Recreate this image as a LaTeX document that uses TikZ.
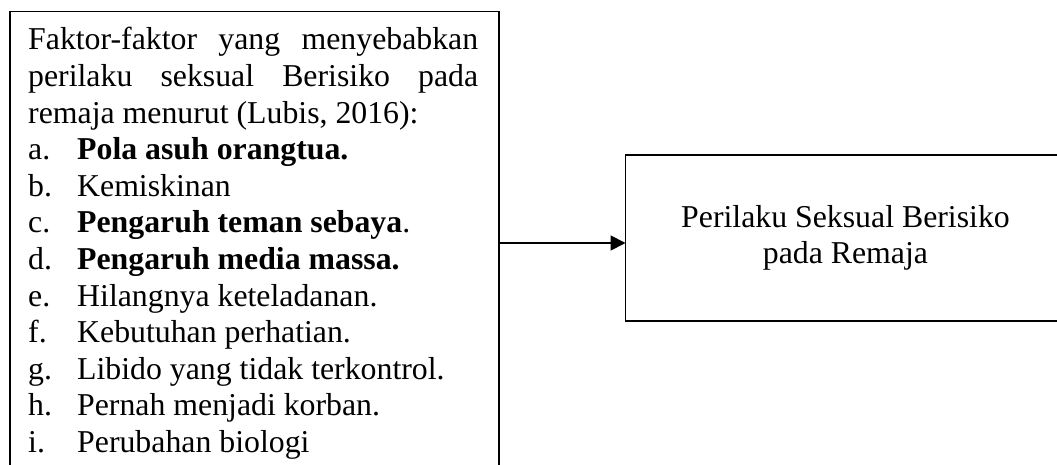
\documentclass[tikz,border=0pt]{standalone}
\usepackage{fontspec}
\setmainfont{Liberation Serif}
\usetikzlibrary{arrows.meta}
\newcommand\lstitem[1]{\par\noindent\makebox[49pt][l]{#1}}
\begin{document}
\begin{tikzpicture}[x=1pt,y=-1pt,
  box/.style={draw, line width=1.8pt, inner sep=0pt, outer sep=0pt},
  txt/.style={font=\fontsize{31.8pt}{36.6pt}\selectfont},
  conn/.style={line width=1.8pt, -{Triangle[length=15pt,width=15pt]}}]
\useasboundingbox (0,0) rectangle (1057,465);
\clip (0,0) rectangle (1057,465);
\node[box, anchor=north west, minimum width=489pt, minimum height=463pt] (src) at (10,11.5) {};
\node[txt, anchor=base west, text width=450pt, align=justify, inner sep=0pt] (srctext) at (28,50) {%
\noindent\hyphenpenalty=10000 Faktor-faktor yang menyebabkan\linebreak perilaku seksual Berisiko pada\linebreak remaja menurut (Lubis, 2016):
\lstitem{a.}\textbf{Pola asuh orangtua.}
\lstitem{b.}Kemiskinan
\lstitem{c.}\textbf{Pengaruh teman sebaya}.
\lstitem{d.}\textbf{Pengaruh media massa.}
\lstitem{e.}Hilangnya keteladanan.
\lstitem{f.}Kebutuhan perhatian.
\lstitem{g.}Libido yang tidak terkontrol.
\lstitem{h.}Pernah menjadi korban.
\lstitem{i.}Perubahan biologi\par};
\node[box, txt, anchor=north west, minimum width=440pt, minimum height=166pt] (dst) at (625.5,155) {\raisebox{-6pt}{\begin{tabular}{@{}c@{}}Perilaku Seksual Berisiko\\pada Remaja\end{tabular}}};
\draw[conn] (src.east) -- (src.east -| dst.west);
\end{tikzpicture}
\end{document}
